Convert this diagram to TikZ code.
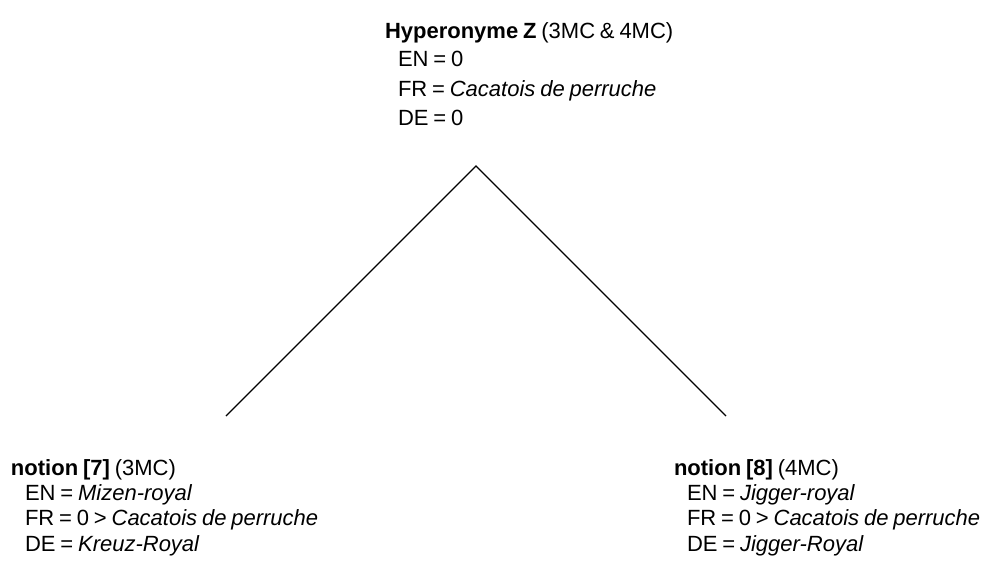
\documentclass[tikz,border=0pt]{standalone}
\usepackage{fontspec}
\setmainfont{Liberation Sans}
% slightly narrower word spaces for the labels
\newcommand{\labelspacing}{\spaceskip=0.22em plus 0.1em minus 0.05em\relax}
\begin{document}
\begin{tikzpicture}[x=0.75pt,y=-0.75pt,
  txt/.style={anchor=base west,inner sep=0pt,outer sep=0pt,
    font=\fontsize{16.5}{19}\selectfont\labelspacing},
  branch/.style={draw=black,line width=0.9pt}]
\useasboundingbox (0,0) rectangle (985,579);

% hyperonym
\node[txt] (hyp)   at (385,38)  {\textbf{Hyperonyme Z} (3MC \& 4MC)};
\node[txt] (hypEN) at (398,66)  {EN = 0};
\node[txt] (hypFR) at (398,96)  {FR = \textit{Cacatois de perruche}};
\node[txt] (hypDE) at (398,125) {DE = 0};

% notion 7
\node[txt] (nA)   at (11,475)  {\textbf{notion [7]} (3MC)};
\node[txt] (nAEN) at (25,500)  {EN = \textit{Mizen-royal}};
\node[txt] (nAFR) at (25,525)  {FR = 0 > \textit{Cacatois de perruche}};
\node[txt] (nADE) at (25,551)  {DE = \textit{Kreuz-Royal}};

% notion 8
\node[txt] (nB)   at (674,475) {\textbf{notion [8]} (4MC)};
\node[txt] (nBEN) at (687,500) {EN = \textit{Jigger-royal}};
\node[txt] (nBFR) at (687,525) {FR = 0 > \textit{Cacatois de perruche}};
\node[txt] (nBDE) at (687,551) {DE = \textit{Jigger-Royal}};

% branch points
\coordinate (apex)  at (476,166);
\coordinate (leftend)  at (226,416);
\coordinate (rightend) at (726,416);
\draw[branch] (leftend) -- (apex) -- (rightend);
\end{tikzpicture}
\end{document}
